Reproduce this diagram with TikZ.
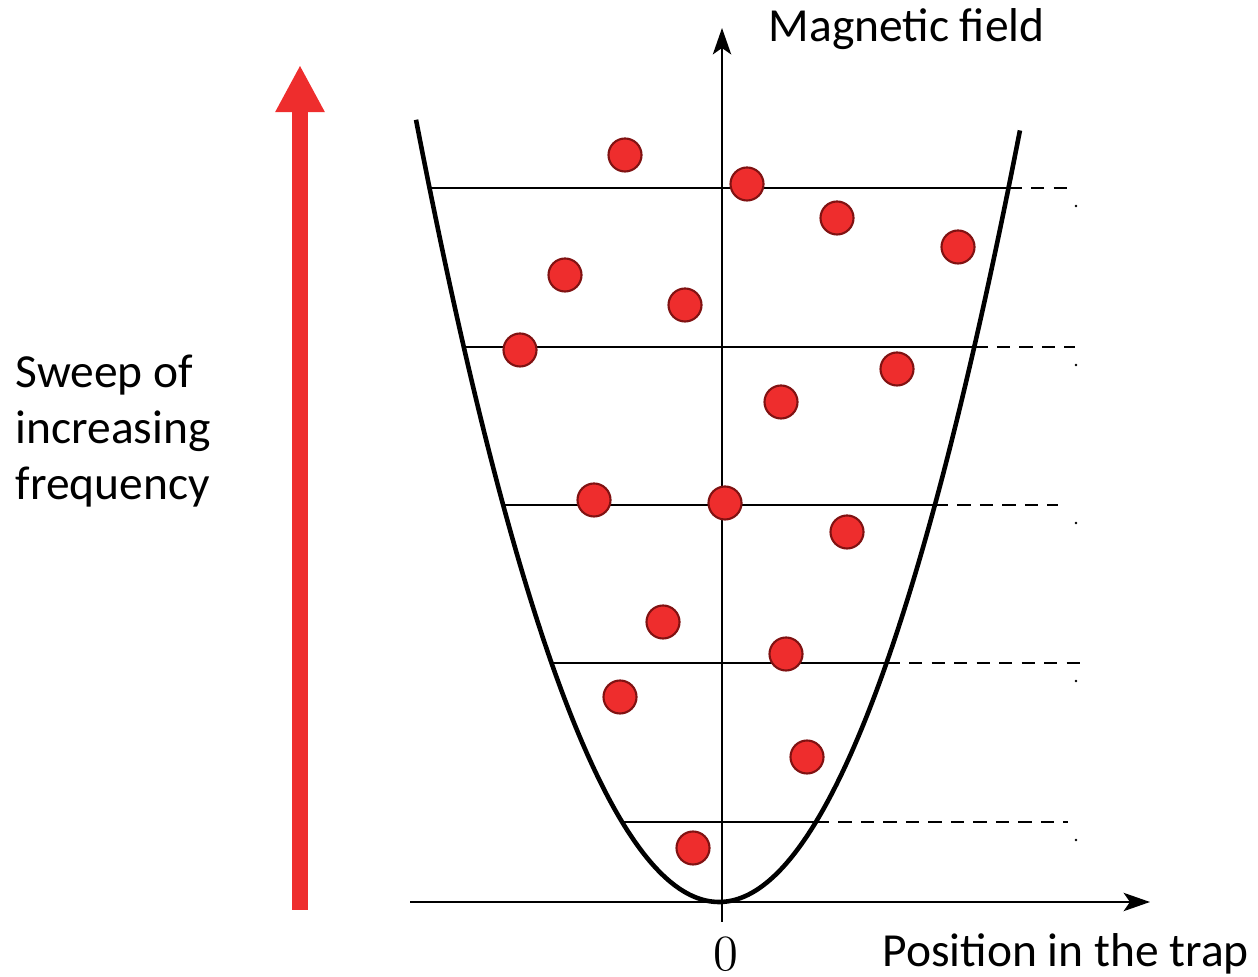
\documentclass[tikz,border=0pt]{standalone}
\usepackage{fontspec}
\setmainfont{Carlito}
\usetikzlibrary{arrows.meta}
\definecolor{atomred}{RGB}{238,45,45}
\definecolor{atomrim}{RGB}{128,18,18}
\definecolor{sweepred}{RGB}{238,45,45}
\tikzset{
  atom/.style={circle, fill=atomred, draw=atomrim, line width=0.6pt,
    minimum size=0.33cm, inner sep=0pt},
  axisline/.style={line width=0.6pt, -{Stealth[length=7.5pt,width=5.2pt,inset=1.8pt]}},
  level/.style={line width=0.6pt},
  levelext/.style={line width=0.6pt, dash pattern=on 3.8pt off 2.6pt},
  sweep/.style={draw=sweepred, line width=4.6pt,
    -{Triangle[width=13.1pt,length=13.4pt]}},
  axistext/.style={font=\fontsize{13.5}{16}\selectfont, inner sep=0pt}
}
\begin{document}
\begin{tikzpicture}[x=0.01cm, y=-0.01cm]
  \useasboundingbox (0,0) rectangle (1258,977);
  % sweep arrow on the left
  \coordinate (sweep-s) at (300,910);
  \coordinate (sweep-e) at (300,65);
  \draw[sweep] (sweep-s) -- (sweep-e);
  \node[axistext, align=left, anchor=base west] (sweeptext) at (15,500)
    {Sweep of\\increasing\\frequency};
  % axes
  \coordinate (origin) at (722,902);
  \coordinate (xstart) at (410,902);
  \coordinate (xend) at (1150,902);
  \coordinate (ystart) at (722,922);
  \coordinate (yend) at (722,28);
  \draw[axisline] (xstart) -- (xend);
  \draw[axisline] (ystart) -- (yend);
  \node[axistext, anchor=base west] (bfield) at (768,42) {Magnetic field};
  \node[axistext, anchor=base west] (trappos) at (882,967) {Position in the trap};
  \node[font=\fontsize{15}{18}\selectfont, anchor=base, inner sep=0pt] (zero)
    at (726,970) {$0$};
  % trap potential
  \draw[line width=1.3pt] plot[domain=-3.03:3.01, samples=120, smooth]
    ({719+100*\x},{902-85.2*\x*\x});
  % resonance levels
  \foreach \y/\xe [count=\i] in {188/1073,347/1075,505/1058,663/1085,822/1068}{
    \pgfmathsetmacro\dx{100*sqrt((902-\y)/85.2)}
    \coordinate (lvl\i-l) at (719-\dx,\y);
    \coordinate (lvl\i-r) at (719+\dx,\y);
    \coordinate (lvl\i-e) at (\xe,\y);
    \draw[level] (lvl\i-l) -- (lvl\i-r);
    \draw[levelext] (lvl\i-r) -- (lvl\i-e);
    \fill (1076,\y+18) circle (1.4);
  }
  % atoms in the trap
  \foreach \x/\y [count=\i] in {625/155,747/184,837/218,958/247,565/275,
      685/305,520/350,897/369,781/402,594/500,725/503,847/532,663/622,
      786/654,620/697,807/757,693/848}
    \node[atom] (atom\i) at (\x,\y) {};
\end{tikzpicture}
\end{document}
